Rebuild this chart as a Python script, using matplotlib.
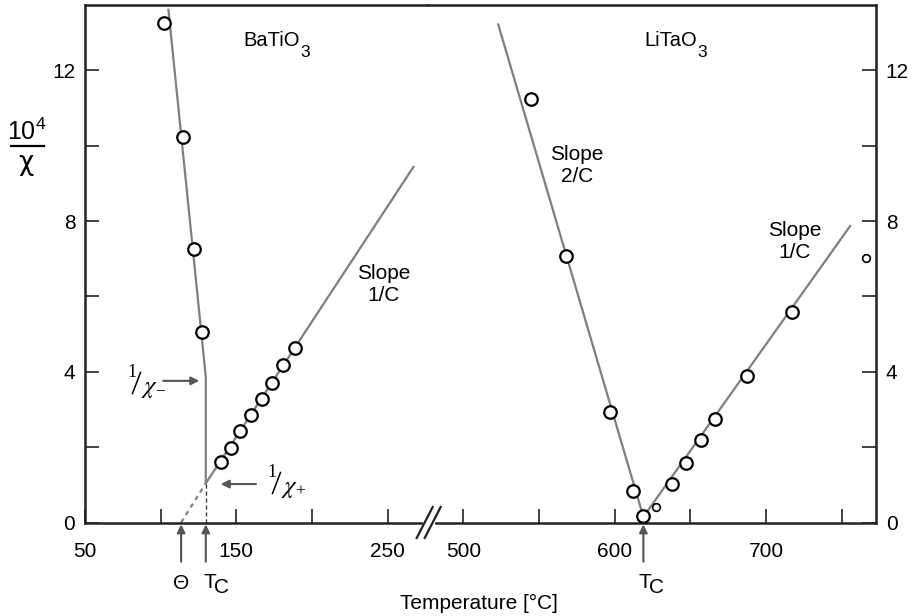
import matplotlib
matplotlib.use("Agg")
import matplotlib.pyplot as plt
from matplotlib.lines import Line2D

plt.rcParams["font.family"] = ["Liberation Sans", "DejaVu Sans"]
plt.rcParams["mathtext.fontset"] = "custom"
plt.rcParams["mathtext.rm"] = "Liberation Sans"
plt.rcParams["mathtext.it"] = "Liberation Sans:italic"

# BaTiO3 measured points (T in degC, 10^4/chi)
bt_below_T = [102.4, 115.0, 122.3, 127.3]
bt_below_y = [13.27, 10.23, 7.25, 5.05]
bt_above_T = [139.9, 146.3, 152.7, 159.5, 167.0, 173.8, 181.1, 188.6]
bt_above_y = [1.60, 1.99, 2.44, 2.86, 3.28, 3.71, 4.17, 4.63]
# BaTiO3 guide lines
bt_fit_below_T = [105.1, 129.8, 129.8]
bt_fit_below_y = [13.61, 3.87, 1.04]
bt_fit_above_T = [129.8, 267.0]
bt_fit_above_y = [1.04, 9.44]
bt_extrap_T = [113.5, 129.8]
bt_extrap_y = [0.0, 1.04]
bt_theta, bt_tc = 113.5, 129.8

# LiTaO3 measured points
lt_below_T = [544.5, 567.9, 597.2, 612.4, 619.0]
lt_below_y = [11.23, 7.07, 2.93, 0.83, 0.17]
lt_above_T = [637.7, 647.2, 657.3, 666.6, 687.3, 717.2]
lt_above_y = [1.01, 1.58, 2.18, 2.76, 3.89, 5.58]
lt_small_T = [627.4, 766.0]
lt_small_y = [0.42, 7.02]
# LiTaO3 guide lines
lt_fit_below_T = [523.1, 619.0]
lt_fit_below_y = [13.22, 0.15]
lt_fit_above_T = [619.0, 755.6]
lt_fit_above_y = [0.15, 7.87]
lt_tc = 619.0

LINE = "#7f7f7f"
ARROW = "#555555"
SPINE = "#222222"
FS = 15

W, H = 913, 616
fig = plt.figure(figsize=(W / 100, H / 100), dpi=100)
x0, xb, x1 = 85, 428, 876
ytop, ybot = 4.5, 522.5
ax1 = fig.add_axes([x0 / W, 1 - ybot / H, (xb - x0) / W, (ybot - ytop) / H])
ax2 = fig.add_axes([xb / W, 1 - ybot / H, (x1 - xb) / W, (ybot - ytop) / H])

ax1.set_xlim(50, 276.6)
ax2.set_xlim(476.7, 772.7)
for ax in (ax1, ax2):
    ax.set_ylim(0, 13.75)
    for s in ax.spines.values():
        s.set_linewidth(1.8)
        s.set_color(SPINE)
    ax.tick_params(which="both", direction="in", length=10, width=1.2,
                   color=SPINE, labelsize=FS, top=False)
    ax.tick_params(axis="x", pad=14)
    ax.tick_params(axis="y", pad=7)

ax1.spines["right"].set_visible(False)
ax2.spines["left"].set_visible(False)
ax1.set_xticks([50, 150, 250])
ax1.set_xticks([100, 200], minor=True)
ax1.set_yticks([0, 4, 8, 12])
ax1.set_yticks([2, 6, 10], minor=True)
ax1.tick_params(right=False, which="both")
ax2.set_xticks([500, 600, 700])
ax2.set_xticks([550, 650, 750], minor=True)
ax2.set_yticks([0, 4, 8, 12])
ax2.set_yticks([2, 6, 10], minor=True)
ax2.tick_params(which="both", left=False, labelleft=False, right=True, labelright=True)

mk = dict(ls="none", marker="o", ms=9, mfc="white", mec="black", mew=1.6, zorder=5,
          clip_on=False)
mk_small = dict(mk, ms=5.5, mew=1.2)

# BaTiO3
ax1.plot(bt_fit_below_T, bt_fit_below_y, color=LINE, lw=1.6, zorder=2)
ax1.plot(bt_fit_above_T, bt_fit_above_y, color=LINE, lw=1.6, zorder=2)
ax1.plot(bt_extrap_T, bt_extrap_y, color=LINE, lw=1.6, ls=(0, (2, 2)), zorder=2)
ax1.plot([bt_tc, bt_tc], [0, bt_fit_below_y[-1]], color="#444444", lw=1.0,
         ls=(0, (3, 2)), zorder=2)
ax1.plot(bt_below_T, bt_below_y, **mk)
ax1.plot(bt_above_T, bt_above_y, **mk)

# LiTaO3
ax2.plot(lt_fit_below_T, lt_fit_below_y, color=LINE, lw=1.6, zorder=2)
ax2.plot(lt_fit_above_T, lt_fit_above_y, color=LINE, lw=1.6, zorder=2)
ax2.plot(lt_below_T, lt_below_y, **mk)
ax2.plot(lt_above_T, lt_above_y, **mk)
ax2.plot(lt_small_T, lt_small_y, **mk_small)

arr = dict(arrowstyle="-|>", color=ARROW, lw=1.5, mutation_scale=12,
           shrinkA=0, shrinkB=0)


def slashed_chi(left, mid, sign):
    """1/chi_sign as a slanted fraction; left edge and mid height in pixels."""
    serif = ["Liberation Serif", "DejaVu Serif"]
    fig.text((left + 3.6) / W, 1 - (mid - 8.5) / H, "1", fontsize=13, family=serif,
             ha="center", va="center")
    fig.add_artist(Line2D([(left + 4.5) / W, (left + 12.5) / W],
                          [1 - (mid + 12.5) / H, 1 - (mid - 8.5) / H],
                          color="black", lw=1.1, transform=fig.transFigure))
    fig.text((left + 21.5) / W, 1 - (mid + 6.5) / H, r"$\chi$", fontsize=18,
             math_fontfamily="stix", ha="center", va="center")
    fig.text((left + 32) / W, 1 - (mid + 10.5) / H, sign, fontsize=12.5,
             family=serif, ha="center", va="center")


# 1/chi annotations
ax1.annotate("", xy=(125.5, 3.76), xytext=(101.7, 3.76), arrowprops=arr)
slashed_chi(128, 381, "−")
ax1.annotate("", xy=(139.7, 1.02), xytext=(163.0, 1.02), arrowprops=arr)
slashed_chi(268, 481, "+")

# Theta / Tc arrows below the axis
for ax, xv in ((ax1, bt_theta), (ax1, bt_tc), (ax2, lt_tc)):
    ax.annotate("", xy=(xv, -0.05), xytext=(xv, -1.04), arrowprops=arr,
                annotation_clip=False)
ax1.text(bt_theta, -1.62, "Θ", fontsize=FS, ha="center", va="center")
for ax, xv in ((ax1, bt_tc + 3.0), (ax2, lt_tc + 1.0)):
    ax.text(xv, -1.58, "T", fontsize=FS, ha="center", va="center")
    ax.text(xv + 7.6, -1.72, "C", fontsize=FS, ha="center", va="center")

# compound names with a dropped subscript
for ax, xv, name in ((ax1, 154.4, "BaTiO"), (ax2, 619.4, "LiTaO")):
    t = ax.text(xv, 12.8, name, fontsize=14.5, ha="left", va="center")
    ax.annotate("3", xy=(1, 0), xycoords=t, xytext=(0.3, -2.3),
                textcoords="offset points", fontsize=12.5, ha="left", va="center")

ax1.text(247.2, 6.33, "Slope\n1/C", fontsize=FS, ha="center", va="center",
         linespacing=1.2)
ax2.text(575.0, 9.48, "Slope\n2/C", fontsize=FS, ha="center", va="center",
         linespacing=1.2)
ax2.text(719.2, 7.45, "Slope\n1/C", fontsize=FS, ha="center", va="center",
         linespacing=1.2)

# axis break marks
yb = 1 - ybot / H
fig.add_artist(Line2D([424.7 / W, 432.7 / W], [yb, yb], color="white", lw=3,
                      transform=fig.transFigure, zorder=10))
for dx in (-4.0, 4.0):
    cx = 428.7 + dx
    fig.add_artist(Line2D([(cx - 8) / W, (cx + 8) / W],
                          [1 - 538 / H, 1 - 507 / H], color=SPINE, lw=1.6,
                          transform=fig.transFigure, zorder=11))

# y label as a stacked fraction
fig.text(27 / W, 1 - 132 / H, r"10$^{4}$", fontsize=18, ha="center", va="center")
fig.add_artist(Line2D([11 / W, 44 / W], [1 - 145.7 / H, 1 - 145.7 / H],
                      color="black", lw=1.6, transform=fig.transFigure))
fig.text(26 / W, 1 - 163 / H, "χ", fontsize=19, family="DejaVu Sans",
         ha="center", va="center")

fig.text(479 / W, 1 - 603 / H, "Temperature [°C]", fontsize=FS, ha="center",
         va="center")

fig.savefig("out.png", dpi=100)
